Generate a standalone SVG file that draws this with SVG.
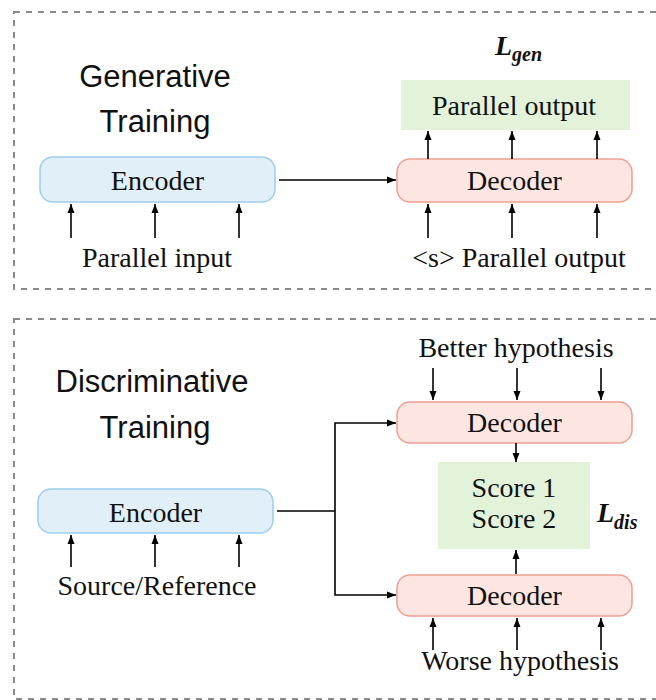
<svg xmlns="http://www.w3.org/2000/svg" width="656" height="700" viewBox="0 0 656 700">
<style>
.frame{fill:none;stroke:#8a8a8a;stroke-width:2;stroke-dasharray:6 6}
.enc{fill:#e1eff9;stroke:#9fcdf0;stroke-width:1.5}
.dec{fill:#fde6e1;stroke:#ef9f92;stroke-width:1.5}
.out{fill:#e3f3da;stroke:none}
.serif{font-family:"Liberation Serif","Times New Roman",serif;font-size:28px;fill:#111;text-anchor:middle}
.sans{font-family:"Liberation Sans",Arial,sans-serif;font-size:31px;fill:#111;text-anchor:middle}
.loss{font-family:"Liberation Serif","Times New Roman",serif;font-style:italic;font-weight:bold;fill:#111}
.c{fill:none;stroke:#000;stroke-width:1.6}
.ca{fill:none;stroke:#000;stroke-width:1.6;marker-end:url(#ah)}
</style>
<defs>
<marker id="ah" markerUnits="userSpaceOnUse" markerWidth="10" markerHeight="10" viewBox="0 0 10 10" refX="9" refY="5" orient="auto">
<path d="M0,1.5 L9,5 L0,8.5 Z" fill="#000"/>
</marker>
</defs>

<rect class="frame" x="14" y="12" width="660" height="277"/>
<rect class="frame" x="14" y="319" width="660" height="380"/>

<g id="gen-title">
<text class="sans" x="155" y="87">Generative</text>
<text class="sans" x="155" y="132">Training</text>
</g>
<g id="gen-encoder">
<rect class="enc" x="40" y="157" width="235" height="45" rx="13"/>
<text class="serif" x="157.5" y="190">Encoder</text>
</g>
<g id="gen-input"><text class="serif" x="157" y="267">Parallel input</text></g>
<g id="gen-decoder">
<rect class="dec" x="397" y="159" width="235" height="43" rx="13"/>
<text class="serif" x="514.5" y="190">Decoder</text>
</g>
<g id="gen-output">
<rect class="out" x="401" y="80" width="229" height="50"/>
<text class="serif" x="514" y="115">Parallel output</text>
</g>
<g id="gen-decinput"><text class="serif" x="519" y="267">&lt;s&gt; Parallel output</text></g>
<g id="gen-loss">
<text class="loss" x="495" y="55" font-size="28">L<tspan font-size="20" dy="6">gen</tspan></text>
</g>

<g id="dis-title">
<text class="sans" x="152" y="392">Discriminative</text>
<text class="sans" x="155" y="438">Training</text>
</g>
<g id="dis-encoder">
<rect class="enc" x="38" y="489" width="235" height="44" rx="13"/>
<text class="serif" x="155.5" y="522">Encoder</text>
</g>
<g id="dis-input"><text class="serif" x="157" y="595">Source/Reference</text></g>
<g id="dis-better"><text class="serif" x="516" y="357">Better hypothesis</text></g>
<g id="dis-decoder1">
<rect class="dec" x="397" y="402" width="235" height="41" rx="13"/>
<text class="serif" x="514.5" y="432">Decoder</text>
</g>
<g id="dis-score">
<rect class="out" x="438" y="462" width="152" height="87"/>
<text class="serif" x="514" y="497">Score 1</text>
<text class="serif" x="514" y="528">Score 2</text>
</g>
<g id="dis-loss">
<text class="loss" x="597" y="522" font-size="28">L<tspan font-size="20" dy="7">dis</tspan></text>
</g>
<g id="dis-decoder2">
<rect class="dec" x="397" y="575" width="235" height="41" rx="13"/>
<text class="serif" x="514.5" y="605">Decoder</text>
</g>
<g id="dis-worse"><text class="serif" x="520" y="670">Worse hypothesis</text></g>

<g id="connectors">
<line class="ca" x1="71" y1="238" x2="71" y2="204"/>
<line class="ca" x1="155" y1="238" x2="155" y2="204"/>
<line class="ca" x1="239" y1="238" x2="239" y2="204"/>
<line class="ca" x1="279" y1="180" x2="396" y2="180"/>
<line class="ca" x1="428" y1="159" x2="428" y2="131"/>
<line class="ca" x1="512" y1="159" x2="512" y2="131"/>
<line class="ca" x1="597" y1="159" x2="597" y2="131"/>
<line class="ca" x1="428" y1="238" x2="428" y2="204"/>
<line class="ca" x1="512" y1="238" x2="512" y2="204"/>
<line class="ca" x1="597" y1="238" x2="597" y2="204"/>

<line class="ca" x1="71" y1="567" x2="71" y2="535"/>
<line class="ca" x1="155" y1="567" x2="155" y2="535"/>
<line class="ca" x1="239" y1="567" x2="239" y2="535"/>
<line class="c" x1="277" y1="511" x2="335" y2="511"/>
<polyline class="ca" points="335,511 335,423 396,423"/>
<polyline class="ca" points="335,511 335,595 396,595"/>
<line class="ca" x1="433" y1="368" x2="433" y2="400"/>
<line class="ca" x1="517" y1="368" x2="517" y2="400"/>
<line class="ca" x1="601" y1="368" x2="601" y2="400"/>
<line class="ca" x1="516" y1="443" x2="516" y2="462"/>
<line class="ca" x1="516" y1="574" x2="516" y2="550"/>
<line class="ca" x1="433" y1="650" x2="433" y2="618"/>
<line class="ca" x1="517" y1="650" x2="517" y2="618"/>
<line class="ca" x1="601" y1="650" x2="601" y2="618"/>
</g>
</svg>
